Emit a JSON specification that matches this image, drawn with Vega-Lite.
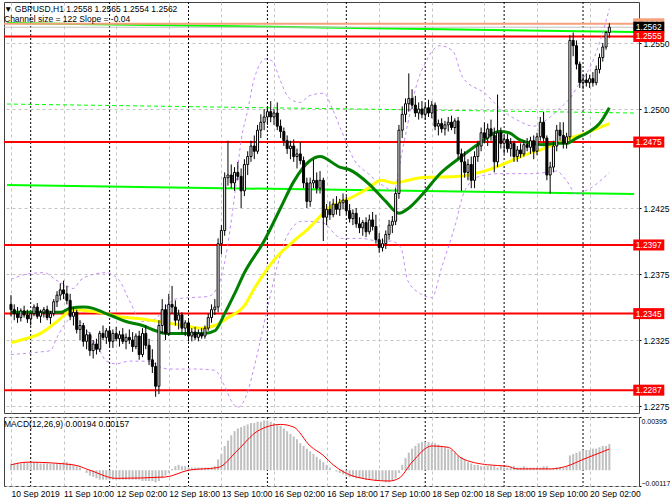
{
  "$schema": "https://vega.github.io/schema/vega-lite/v6.json",
  "background": "#ffffff",
  "padding": {"left": 2, "top": 1, "right": 0, "bottom": 0},
  "config": {
    "view": {"stroke": "#404040", "strokeWidth": 1},
    "axis": {"labelFont": "Liberation Sans", "labelFontSize": 8.5, "labelColor": "#000000", "domain": false, "gridColor": "#c4c4c4", "gridDash": [3, 3], "gridWidth": 1, "tickColor": "#000000", "tickSize": 2},
    "title": {"font": "Liberation Sans", "fontSize": 8.5, "fontWeight": "normal", "color": "#000000", "subtitleFont": "Liberation Sans", "subtitleFontSize": 8.5, "subtitleColor": "#000000", "anchor": "start", "frame": "group", "subtitlePadding": 2}
  },
  "datasets": {
    "seps": [{"bar": 6}, {"bar": 30}, {"bar": 54}, {"bar": 78}, {"bar": 102}, {"bar": 126}, {"bar": 150}, {"bar": 174}],
    "tags": [
      {"kind": "ask", "price": 1.25646},
      {"kind": "bid", "price": 1.2562},
      {"kind": "level", "price": 1.2555},
      {"kind": "level", "price": 1.2475},
      {"kind": "level", "price": 1.2397},
      {"kind": "level", "price": 1.2345},
      {"kind": "level", "price": 1.2287}
    ],
    "channel": [
      {"line": "top", "bar": -1.2, "price": 1.25652}, {"line": "top", "bar": 189.5, "price": 1.25583},
      {"line": "mid", "bar": -1.2, "price": 1.25038}, {"line": "mid", "bar": 189.5, "price": 1.2497},
      {"line": "bottom", "bar": -1.2, "price": 1.24424}, {"line": "bottom", "bar": 189.5, "price": 1.24356}
    ],
    "green": [
      {"bar": 0, "value": 1.2346}, {"bar": 9, "value": 1.2346}, {"bar": 15, "value": 1.2346}, {"bar": 18, "value": 1.2349}, {"bar": 22, "value": 1.235}, {"bar": 25, "value": 1.2349}, {"bar": 28, "value": 1.2346}, {"bar": 31, "value": 1.2343}, {"bar": 35, "value": 1.2339}, {"bar": 40, "value": 1.2336}, {"bar": 44, "value": 1.2332}, {"bar": 47, "value": 1.233}, {"bar": 59, "value": 1.233}, {"bar": 62, "value": 1.2332}, {"bar": 65, "value": 1.2345}, {"bar": 68, "value": 1.236}, {"bar": 71, "value": 1.2376}, {"bar": 77, "value": 1.24}, {"bar": 82, "value": 1.2425}, {"bar": 86, "value": 1.2445}, {"bar": 91, "value": 1.2461}, {"bar": 94, "value": 1.2464}, {"bar": 100, "value": 1.2456}, {"bar": 103, "value": 1.2454}, {"bar": 109, "value": 1.2443}, {"bar": 114, "value": 1.243}, {"bar": 118, "value": 1.2421}, {"bar": 121, "value": 1.2425}, {"bar": 125, "value": 1.2435}, {"bar": 130.5, "value": 1.2451}, {"bar": 136.5, "value": 1.2463}, {"bar": 142.5, "value": 1.2474}, {"bar": 148.5, "value": 1.2483}, {"bar": 151.5, "value": 1.2482}, {"bar": 154.5, "value": 1.2477}, {"bar": 158, "value": 1.2474}, {"bar": 162, "value": 1.2473}, {"bar": 166, "value": 1.2474}, {"bar": 169, "value": 1.2474}, {"bar": 172, "value": 1.2478}, {"bar": 176, "value": 1.2483}, {"bar": 179, "value": 1.2489}, {"bar": 182, "value": 1.2501}
    ],
    "yellow": [
      {"bar": 0, "value": 1.2323}, {"bar": 3, "value": 1.2325}, {"bar": 9, "value": 1.233}, {"bar": 14, "value": 1.2339}, {"bar": 19, "value": 1.2348}, {"bar": 24, "value": 1.2347}, {"bar": 29, "value": 1.2345}, {"bar": 32, "value": 1.2343}, {"bar": 40, "value": 1.2341}, {"bar": 45, "value": 1.2339}, {"bar": 50, "value": 1.2337}, {"bar": 58, "value": 1.2334}, {"bar": 62, "value": 1.2336}, {"bar": 66, "value": 1.2342}, {"bar": 71, "value": 1.2351}, {"bar": 74, "value": 1.2364}, {"bar": 80.5, "value": 1.2387}, {"bar": 86, "value": 1.24}, {"bar": 90.7, "value": 1.241}, {"bar": 96.7, "value": 1.2425}, {"bar": 103.6, "value": 1.2433}, {"bar": 108.7, "value": 1.244}, {"bar": 112.6, "value": 1.2446}, {"bar": 116.5, "value": 1.2444}, {"bar": 120.7, "value": 1.2446}, {"bar": 124.6, "value": 1.2448}, {"bar": 136.5, "value": 1.2449}, {"bar": 142.5, "value": 1.2452}, {"bar": 148.5, "value": 1.2457}, {"bar": 156, "value": 1.2465}, {"bar": 162, "value": 1.247}, {"bar": 166, "value": 1.2474}, {"bar": 170, "value": 1.2478}, {"bar": 174, "value": 1.2481}, {"bar": 178, "value": 1.2485}, {"bar": 182, "value": 1.2489}
    ],
    "bands": [
      {"band": "upper", "bar": 0, "price": 1.2371}, {"band": "upper", "bar": 5, "price": 1.2375}, {"band": "upper", "bar": 10, "price": 1.2376}, {"band": "upper", "bar": 14, "price": 1.237}, {"band": "upper", "bar": 17, "price": 1.2366}, {"band": "upper", "bar": 19, "price": 1.2364}, {"band": "upper", "bar": 21, "price": 1.237}, {"band": "upper", "bar": 24, "price": 1.2374}, {"band": "upper", "bar": 29, "price": 1.2376}, {"band": "upper", "bar": 33, "price": 1.237}, {"band": "upper", "bar": 36, "price": 1.2355}, {"band": "upper", "bar": 40, "price": 1.2339}, {"band": "upper", "bar": 44, "price": 1.2341}, {"band": "upper", "bar": 46, "price": 1.2347}, {"band": "upper", "bar": 50, "price": 1.2356}, {"band": "upper", "bar": 54, "price": 1.2357}, {"band": "upper", "bar": 60, "price": 1.2358}, {"band": "upper", "bar": 63, "price": 1.2366}, {"band": "upper", "bar": 65, "price": 1.2384}, {"band": "upper", "bar": 68, "price": 1.2434}, {"band": "upper", "bar": 70, "price": 1.2476}, {"band": "upper", "bar": 72, "price": 1.2499}, {"band": "upper", "bar": 74, "price": 1.2523}, {"band": "upper", "bar": 77.5, "price": 1.2538}, {"band": "upper", "bar": 79.6, "price": 1.2536}, {"band": "upper", "bar": 81.7, "price": 1.2523}, {"band": "upper", "bar": 84.7, "price": 1.2508}, {"band": "upper", "bar": 88, "price": 1.2505}, {"band": "upper", "bar": 90.7, "price": 1.251}, {"band": "upper", "bar": 95.2, "price": 1.2512}, {"band": "upper", "bar": 97.6, "price": 1.2501}, {"band": "upper", "bar": 100.6, "price": 1.2483}, {"band": "upper", "bar": 104.5, "price": 1.2461}, {"band": "upper", "bar": 108.7, "price": 1.2451}, {"band": "upper", "bar": 112.6, "price": 1.2443}, {"band": "upper", "bar": 116.5, "price": 1.2438}, {"band": "upper", "bar": 118.6, "price": 1.2463}, {"band": "upper", "bar": 120.7, "price": 1.2489}, {"band": "upper", "bar": 123.7, "price": 1.2521}, {"band": "upper", "bar": 126, "price": 1.2535}, {"band": "upper", "bar": 130.5, "price": 1.2548}, {"band": "upper", "bar": 134.4, "price": 1.2544}, {"band": "upper", "bar": 137.4, "price": 1.2524}, {"band": "upper", "bar": 144.6, "price": 1.2511}, {"band": "upper", "bar": 148.5, "price": 1.2501}, {"band": "upper", "bar": 154.5, "price": 1.2491}, {"band": "upper", "bar": 159, "price": 1.2487}, {"band": "upper", "bar": 163.5, "price": 1.2493}, {"band": "upper", "bar": 168, "price": 1.2503}, {"band": "upper", "bar": 170, "price": 1.2508}, {"band": "upper", "bar": 173, "price": 1.252}, {"band": "upper", "bar": 176, "price": 1.2531}, {"band": "upper", "bar": 179, "price": 1.255}, {"band": "upper", "bar": 182, "price": 1.2576},
      {"band": "lower", "bar": 0, "price": 1.2314}, {"band": "lower", "bar": 9, "price": 1.2316}, {"band": "lower", "bar": 12, "price": 1.2317}, {"band": "lower", "bar": 14, "price": 1.2327}, {"band": "lower", "bar": 17, "price": 1.2339}, {"band": "lower", "bar": 19, "price": 1.2343}, {"band": "lower", "bar": 21, "price": 1.2339}, {"band": "lower", "bar": 24, "price": 1.2329}, {"band": "lower", "bar": 27, "price": 1.2317}, {"band": "lower", "bar": 29, "price": 1.2309}, {"band": "lower", "bar": 32, "price": 1.2307}, {"band": "lower", "bar": 36, "price": 1.2309}, {"band": "lower", "bar": 42, "price": 1.2309}, {"band": "lower", "bar": 45, "price": 1.2305}, {"band": "lower", "bar": 48, "price": 1.2303}, {"band": "lower", "bar": 56, "price": 1.2303}, {"band": "lower", "bar": 62, "price": 1.2302}, {"band": "lower", "bar": 65, "price": 1.229}, {"band": "lower", "bar": 67, "price": 1.2279}, {"band": "lower", "bar": 69, "price": 1.2274}, {"band": "lower", "bar": 71.6, "price": 1.2283}, {"band": "lower", "bar": 74.6, "price": 1.2311}, {"band": "lower", "bar": 78, "price": 1.2349}, {"band": "lower", "bar": 81, "price": 1.2381}, {"band": "lower", "bar": 84, "price": 1.2404}, {"band": "lower", "bar": 88.6, "price": 1.2415}, {"band": "lower", "bar": 94.6, "price": 1.2414}, {"band": "lower", "bar": 100.6, "price": 1.2402}, {"band": "lower", "bar": 106.6, "price": 1.2402}, {"band": "lower", "bar": 111.7, "price": 1.24}, {"band": "lower", "bar": 115.6, "price": 1.24}, {"band": "lower", "bar": 118.6, "price": 1.2395}, {"band": "lower", "bar": 120.7, "price": 1.237}, {"band": "lower", "bar": 124.6, "price": 1.236}, {"band": "lower", "bar": 128, "price": 1.2357}, {"band": "lower", "bar": 131, "price": 1.238}, {"band": "lower", "bar": 135, "price": 1.2411}, {"band": "lower", "bar": 138, "price": 1.2438}, {"band": "lower", "bar": 142.5, "price": 1.2449}, {"band": "lower", "bar": 148.5, "price": 1.2451}, {"band": "lower", "bar": 154.5, "price": 1.2451}, {"band": "lower", "bar": 159, "price": 1.2451}, {"band": "lower", "bar": 165.9, "price": 1.2453}, {"band": "lower", "bar": 168.9, "price": 1.2446}, {"band": "lower", "bar": 171.9, "price": 1.2436}, {"band": "lower", "bar": 176.2, "price": 1.244}, {"band": "lower", "bar": 182, "price": 1.2452}
    ],
    "signal": [
      {"bar": 0, "value": 0.0004}, {"bar": 5, "value": 0.0006}, {"bar": 19, "value": 0.0004}, {"bar": 24, "value": 0.0}, {"bar": 32, "value": -0.0006}, {"bar": 47, "value": -0.0005}, {"bar": 54, "value": 0.0}, {"bar": 63, "value": 0.0002}, {"bar": 69, "value": 0.0015}, {"bar": 75, "value": 0.0029}, {"bar": 82, "value": 0.0034}, {"bar": 86, "value": 0.0032}, {"bar": 91, "value": 0.0018}, {"bar": 95, "value": 0.0011}, {"bar": 98, "value": 0.0004}, {"bar": 101, "value": -0.0001}, {"bar": 105, "value": -0.0005}, {"bar": 115, "value": -0.0008}, {"bar": 118, "value": -0.0006}, {"bar": 122, "value": 0.0006}, {"bar": 128, "value": 0.0018}, {"bar": 133, "value": 0.0017}, {"bar": 137, "value": 0.0009}, {"bar": 145, "value": 0.0004}, {"bar": 151, "value": 0.0003}, {"bar": 154, "value": 0.0001}, {"bar": 164, "value": 0.0001}, {"bar": 169, "value": 0.0003}, {"bar": 174, "value": 0.0008}, {"bar": 182, "value": 0.00157}
    ],
    "candles": [
      {"bar":0,"open":1.2352,"high":1.2359,"low":1.2343,"close":1.2348,"macd":0.0005},
      {"bar":1,"open":1.2348,"high":1.2352,"low":1.2340,"close":1.2345,"macd":0.0005},
      {"bar":2,"open":1.2345,"high":1.2350,"low":1.2338,"close":1.2342,"macd":0.0005},
      {"bar":3,"open":1.2342,"high":1.2349,"low":1.2339,"close":1.2347,"macd":0.0005},
      {"bar":4,"open":1.2347,"high":1.2351,"low":1.2342,"close":1.2344,"macd":0.0006},
      {"bar":5,"open":1.2344,"high":1.2348,"low":1.2338,"close":1.2341,"macd":0.0006},
      {"bar":6,"open":1.2341,"high":1.2346,"low":1.2336,"close":1.2345,"macd":0.0006},
      {"bar":7,"open":1.2345,"high":1.2352,"low":1.2343,"close":1.2350,"macd":0.0006},
      {"bar":8,"open":1.2350,"high":1.2353,"low":1.2341,"close":1.2343,"macd":0.0006},
      {"bar":9,"open":1.2343,"high":1.2348,"low":1.2338,"close":1.2346,"macd":0.0005},
      {"bar":10,"open":1.2346,"high":1.2350,"low":1.2342,"close":1.2348,"macd":0.0005},
      {"bar":11,"open":1.2348,"high":1.2351,"low":1.2340,"close":1.2342,"macd":0.0005},
      {"bar":12,"open":1.2342,"high":1.2347,"low":1.2337,"close":1.2345,"macd":0.0005},
      {"bar":13,"open":1.2345,"high":1.2356,"low":1.2343,"close":1.2354,"macd":0.0005},
      {"bar":14,"open":1.2354,"high":1.2362,"low":1.2350,"close":1.2359,"macd":0.0005},
      {"bar":15,"open":1.2359,"high":1.2368,"low":1.2355,"close":1.2363,"macd":0.0005},
      {"bar":16,"open":1.2363,"high":1.2370,"low":1.2356,"close":1.2360,"macd":0.0006},
      {"bar":17,"open":1.2360,"high":1.2366,"low":1.2352,"close":1.2355,"macd":0.0006},
      {"bar":18,"open":1.2355,"high":1.2360,"low":1.2340,"close":1.2343,"macd":0.0005},
      {"bar":19,"open":1.2343,"high":1.2350,"low":1.2336,"close":1.2346,"macd":0.0004},
      {"bar":20,"open":1.2346,"high":1.2348,"low":1.2330,"close":1.2333,"macd":0.0003},
      {"bar":21,"open":1.2333,"high":1.2340,"low":1.2325,"close":1.2336,"macd":0.0002},
      {"bar":22,"open":1.2336,"high":1.2338,"low":1.2320,"close":1.2324,"macd":0.0},
      {"bar":23,"open":1.2324,"high":1.2333,"low":1.2318,"close":1.2329,"macd":-0.0002},
      {"bar":24,"open":1.2329,"high":1.2331,"low":1.2313,"close":1.2317,"macd":-0.0004},
      {"bar":25,"open":1.2317,"high":1.2325,"low":1.2311,"close":1.2322,"macd":-0.0005},
      {"bar":26,"open":1.2322,"high":1.2326,"low":1.2314,"close":1.2318,"macd":-0.0006},
      {"bar":27,"open":1.2318,"high":1.2332,"low":1.2316,"close":1.2330,"macd":-0.0007},
      {"bar":28,"open":1.2330,"high":1.2336,"low":1.2325,"close":1.2327,"macd":-0.0007},
      {"bar":29,"open":1.2327,"high":1.2334,"low":1.2322,"close":1.2332,"macd":-0.0007},
      {"bar":30,"open":1.2332,"high":1.2335,"low":1.2320,"close":1.2324,"macd":-0.0007},
      {"bar":31,"open":1.2324,"high":1.2333,"low":1.2319,"close":1.2330,"macd":-0.0007},
      {"bar":32,"open":1.2330,"high":1.2335,"low":1.2324,"close":1.2326,"macd":-0.0007},
      {"bar":33,"open":1.2326,"high":1.2332,"low":1.2320,"close":1.2329,"macd":-0.0007},
      {"bar":34,"open":1.2329,"high":1.2334,"low":1.2322,"close":1.2324,"macd":-0.0007},
      {"bar":35,"open":1.2324,"high":1.2330,"low":1.2318,"close":1.2327,"macd":-0.0007},
      {"bar":36,"open":1.2327,"high":1.2333,"low":1.2322,"close":1.2325,"macd":-0.0007},
      {"bar":37,"open":1.2325,"high":1.2331,"low":1.2316,"close":1.2320,"macd":-0.0007},
      {"bar":38,"open":1.2320,"high":1.2330,"low":1.2318,"close":1.2328,"macd":-0.0007},
      {"bar":39,"open":1.2328,"high":1.2332,"low":1.2310,"close":1.2314,"macd":-0.0007},
      {"bar":40,"open":1.2314,"high":1.2334,"low":1.2312,"close":1.2330,"macd":-0.0008},
      {"bar":41,"open":1.2330,"high":1.2336,"low":1.2318,"close":1.2321,"macd":-0.0008},
      {"bar":42,"open":1.2321,"high":1.2326,"low":1.2306,"close":1.2310,"macd":-0.0008},
      {"bar":43,"open":1.2310,"high":1.2318,"low":1.2300,"close":1.2305,"macd":-0.0008},
      {"bar":44,"open":1.2305,"high":1.2308,"low":1.2282,"close":1.2290,"macd":-0.0009},
      {"bar":45,"open":1.2290,"high":1.2340,"low":1.2284,"close":1.2336,"macd":-0.0008},
      {"bar":46,"open":1.2336,"high":1.2356,"low":1.2330,"close":1.2348,"macd":-0.0006},
      {"bar":47,"open":1.2348,"high":1.2352,"low":1.2325,"close":1.2330,"macd":-0.0004},
      {"bar":48,"open":1.2330,"high":1.2360,"low":1.2328,"close":1.2352,"macd":-0.0002},
      {"bar":49,"open":1.2352,"high":1.2366,"low":1.2345,"close":1.2350,"macd":0.0001},
      {"bar":50,"open":1.2350,"high":1.2355,"low":1.2336,"close":1.2340,"macd":0.0003},
      {"bar":51,"open":1.2340,"high":1.2348,"low":1.2333,"close":1.2344,"macd":0.0004},
      {"bar":52,"open":1.2344,"high":1.2346,"low":1.2330,"close":1.2334,"macd":0.0003},
      {"bar":53,"open":1.2334,"high":1.2340,"low":1.2328,"close":1.2338,"macd":0.0003},
      {"bar":54,"open":1.2338,"high":1.2340,"low":1.2324,"close":1.2328,"macd":0.0002},
      {"bar":55,"open":1.2328,"high":1.2334,"low":1.2324,"close":1.2331,"macd":0.0002},
      {"bar":56,"open":1.2331,"high":1.2335,"low":1.2325,"close":1.2327,"macd":0.0002},
      {"bar":57,"open":1.2327,"high":1.2333,"low":1.2324,"close":1.2330,"macd":0.0002},
      {"bar":58,"open":1.2330,"high":1.2334,"low":1.2326,"close":1.2328,"macd":0.0002},
      {"bar":59,"open":1.2328,"high":1.2336,"low":1.2326,"close":1.2334,"macd":0.0002},
      {"bar":60,"open":1.2334,"high":1.2345,"low":1.2332,"close":1.2342,"macd":0.0002},
      {"bar":61,"open":1.2342,"high":1.2352,"low":1.2338,"close":1.2348,"macd":0.0002},
      {"bar":62,"open":1.2348,"high":1.2356,"low":1.2344,"close":1.2350,"macd":0.0003},
      {"bar":63,"open":1.2350,"high":1.2402,"low":1.2346,"close":1.2398,"macd":0.0008},
      {"bar":64,"open":1.2398,"high":1.2412,"low":1.2390,"close":1.2408,"macd":0.0012},
      {"bar":65,"open":1.2408,"high":1.2452,"low":1.2404,"close":1.2448,"macd":0.0018},
      {"bar":66,"open":1.2448,"high":1.2476,"low":1.2442,"close":1.2450,"macd":0.0022},
      {"bar":67,"open":1.2450,"high":1.2458,"low":1.2440,"close":1.2444,"macd":0.0026},
      {"bar":68,"open":1.2444,"high":1.2456,"low":1.2438,"close":1.2452,"macd":0.0029},
      {"bar":69,"open":1.2452,"high":1.2460,"low":1.2446,"close":1.2449,"macd":0.0031},
      {"bar":70,"open":1.2449,"high":1.2455,"low":1.2425,"close":1.2438,"macd":0.0032},
      {"bar":71,"open":1.2438,"high":1.2462,"low":1.2434,"close":1.2458,"macd":0.0033},
      {"bar":72,"open":1.2458,"high":1.2468,"low":1.2450,"close":1.2464,"macd":0.0034},
      {"bar":73,"open":1.2464,"high":1.2476,"low":1.2460,"close":1.2472,"macd":0.0035},
      {"bar":74,"open":1.2472,"high":1.2480,"low":1.2462,"close":1.2468,"macd":0.0035},
      {"bar":75,"open":1.2468,"high":1.2488,"low":1.2466,"close":1.2484,"macd":0.0036},
      {"bar":76,"open":1.2484,"high":1.2496,"low":1.2478,"close":1.2490,"macd":0.0036},
      {"bar":77,"open":1.2490,"high":1.2500,"low":1.2484,"close":1.2494,"macd":0.0037},
      {"bar":78,"open":1.2494,"high":1.2502,"low":1.2488,"close":1.2498,"macd":0.0037},
      {"bar":79,"open":1.2498,"high":1.2506,"low":1.2490,"close":1.2494,"macd":0.0036},
      {"bar":80,"open":1.2494,"high":1.2500,"low":1.2488,"close":1.2497,"macd":0.0035},
      {"bar":81,"open":1.2497,"high":1.2505,"low":1.2484,"close":1.2487,"macd":0.0034},
      {"bar":82,"open":1.2487,"high":1.2492,"low":1.2478,"close":1.2483,"macd":0.0033},
      {"bar":83,"open":1.2483,"high":1.2486,"low":1.2472,"close":1.2476,"macd":0.0031},
      {"bar":84,"open":1.2476,"high":1.2480,"low":1.2466,"close":1.2470,"macd":0.0029},
      {"bar":85,"open":1.2470,"high":1.2476,"low":1.2462,"close":1.2472,"macd":0.0027},
      {"bar":86,"open":1.2472,"high":1.2477,"low":1.2460,"close":1.2464,"macd":0.0025},
      {"bar":87,"open":1.2464,"high":1.2470,"low":1.2455,"close":1.2466,"macd":0.0023},
      {"bar":88,"open":1.2466,"high":1.2475,"low":1.2458,"close":1.2461,"macd":0.0020},
      {"bar":89,"open":1.2461,"high":1.2464,"low":1.2440,"close":1.2444,"macd":0.0018},
      {"bar":90,"open":1.2444,"high":1.2448,"low":1.2425,"close":1.2430,"macd":0.0016},
      {"bar":91,"open":1.2430,"high":1.2448,"low":1.2426,"close":1.2444,"macd":0.0014},
      {"bar":92,"open":1.2444,"high":1.2462,"low":1.2440,"close":1.2446,"macd":0.0012},
      {"bar":93,"open":1.2446,"high":1.2452,"low":1.2436,"close":1.2440,"macd":0.0010},
      {"bar":94,"open":1.2440,"high":1.2453,"low":1.2436,"close":1.2446,"macd":0.0008},
      {"bar":95,"open":1.2446,"high":1.2448,"low":1.2400,"close":1.2418,"macd":0.0006},
      {"bar":96,"open":1.2418,"high":1.2428,"low":1.2412,"close":1.2424,"macd":0.0004},
      {"bar":97,"open":1.2424,"high":1.2430,"low":1.2416,"close":1.2420,"macd":0.0002},
      {"bar":98,"open":1.2420,"high":1.2432,"low":1.2418,"close":1.2428,"macd":0.0},
      {"bar":99,"open":1.2428,"high":1.2434,"low":1.2420,"close":1.2424,"macd":-0.0001},
      {"bar":100,"open":1.2424,"high":1.2432,"low":1.2419,"close":1.2429,"macd":-0.0002},
      {"bar":101,"open":1.2429,"high":1.2436,"low":1.2424,"close":1.2431,"macd":-0.0003},
      {"bar":102,"open":1.2431,"high":1.2434,"low":1.2420,"close":1.2423,"macd":-0.0004},
      {"bar":103,"open":1.2423,"high":1.2428,"low":1.2414,"close":1.2417,"macd":-0.0005},
      {"bar":104,"open":1.2417,"high":1.2424,"low":1.2412,"close":1.2421,"macd":-0.0005},
      {"bar":105,"open":1.2421,"high":1.2425,"low":1.2410,"close":1.2413,"macd":-0.0006},
      {"bar":106,"open":1.2413,"high":1.2418,"low":1.2406,"close":1.2410,"macd":-0.0006},
      {"bar":107,"open":1.2410,"high":1.2416,"low":1.2404,"close":1.2414,"macd":-0.0006},
      {"bar":108,"open":1.2414,"high":1.2418,"low":1.2403,"close":1.2407,"macd":-0.0007},
      {"bar":109,"open":1.2407,"high":1.2420,"low":1.2405,"close":1.2416,"macd":-0.0007},
      {"bar":110,"open":1.2416,"high":1.2422,"low":1.2408,"close":1.2411,"macd":-0.0007},
      {"bar":111,"open":1.2411,"high":1.2420,"low":1.2398,"close":1.2401,"macd":-0.0008},
      {"bar":112,"open":1.2401,"high":1.2406,"low":1.2391,"close":1.2395,"macd":-0.0008},
      {"bar":113,"open":1.2395,"high":1.2402,"low":1.2392,"close":1.2398,"macd":-0.0008},
      {"bar":114,"open":1.2398,"high":1.2408,"low":1.2394,"close":1.2405,"macd":-0.0009},
      {"bar":115,"open":1.2405,"high":1.2416,"low":1.2401,"close":1.2412,"macd":-0.0009},
      {"bar":116,"open":1.2412,"high":1.2419,"low":1.2406,"close":1.2415,"macd":-0.0008},
      {"bar":117,"open":1.2415,"high":1.2440,"low":1.2412,"close":1.2436,"macd":-0.0006},
      {"bar":118,"open":1.2436,"high":1.2488,"low":1.2432,"close":1.2484,"macd":-0.0002},
      {"bar":119,"open":1.2484,"high":1.2502,"low":1.2478,"close":1.2496,"macd":0.0004},
      {"bar":120,"open":1.2496,"high":1.2508,"low":1.2490,"close":1.2504,"macd":0.0009},
      {"bar":121,"open":1.2504,"high":1.2527,"low":1.2498,"close":1.2508,"macd":0.0013},
      {"bar":122,"open":1.2508,"high":1.2515,"low":1.2500,"close":1.2503,"macd":0.0016},
      {"bar":123,"open":1.2503,"high":1.2510,"low":1.2494,"close":1.2497,"macd":0.0018},
      {"bar":124,"open":1.2497,"high":1.2505,"low":1.2492,"close":1.2500,"macd":0.0020},
      {"bar":125,"open":1.2500,"high":1.2506,"low":1.2493,"close":1.2496,"macd":0.0021},
      {"bar":126,"open":1.2496,"high":1.2504,"low":1.2492,"close":1.2501,"macd":0.0021},
      {"bar":127,"open":1.2501,"high":1.2507,"low":1.2494,"close":1.2497,"macd":0.0021},
      {"bar":128,"open":1.2497,"high":1.2506,"low":1.2493,"close":1.2503,"macd":0.0020},
      {"bar":129,"open":1.2503,"high":1.2505,"low":1.2484,"close":1.2487,"macd":0.0020},
      {"bar":130,"open":1.2487,"high":1.2492,"low":1.2480,"close":1.2489,"macd":0.0019},
      {"bar":131,"open":1.2489,"high":1.2493,"low":1.2482,"close":1.2485,"macd":0.0018},
      {"bar":132,"open":1.2485,"high":1.2491,"low":1.2480,"close":1.2488,"macd":0.0017},
      {"bar":133,"open":1.2488,"high":1.2494,"low":1.2483,"close":1.2490,"macd":0.0016},
      {"bar":134,"open":1.2490,"high":1.2495,"low":1.2484,"close":1.2486,"macd":0.0015},
      {"bar":135,"open":1.2486,"high":1.2493,"low":1.2481,"close":1.2491,"macd":0.0013},
      {"bar":136,"open":1.2491,"high":1.2494,"low":1.2462,"close":1.2466,"macd":0.0011},
      {"bar":137,"open":1.2466,"high":1.2470,"low":1.2438,"close":1.2460,"macd":0.0010},
      {"bar":138,"open":1.2460,"high":1.2468,"low":1.2448,"close":1.2452,"macd":0.0008},
      {"bar":139,"open":1.2452,"high":1.2462,"low":1.2446,"close":1.2458,"macd":0.0006},
      {"bar":140,"open":1.2458,"high":1.2464,"low":1.2440,"close":1.2446,"macd":0.0005},
      {"bar":141,"open":1.2446,"high":1.2468,"low":1.2440,"close":1.2464,"macd":0.0004},
      {"bar":142,"open":1.2464,"high":1.2476,"low":1.2460,"close":1.2472,"macd":0.0004},
      {"bar":143,"open":1.2472,"high":1.2486,"low":1.2468,"close":1.2482,"macd":0.0003},
      {"bar":144,"open":1.2482,"high":1.2490,"low":1.2474,"close":1.2478,"macd":0.0003},
      {"bar":145,"open":1.2478,"high":1.2489,"low":1.2472,"close":1.2485,"macd":0.0003},
      {"bar":146,"open":1.2485,"high":1.2492,"low":1.2476,"close":1.2480,"macd":0.0003},
      {"bar":147,"open":1.2480,"high":1.2486,"low":1.2452,"close":1.2460,"macd":0.0003},
      {"bar":148,"open":1.2460,"high":1.2511,"low":1.2456,"close":1.2482,"macd":0.0002},
      {"bar":149,"open":1.2482,"high":1.2486,"low":1.2470,"close":1.2474,"macd":0.0003},
      {"bar":150,"open":1.2474,"high":1.2480,"low":1.2466,"close":1.2477,"macd":0.0002},
      {"bar":151,"open":1.2477,"high":1.2481,"low":1.2467,"close":1.2470,"macd":0.0002},
      {"bar":152,"open":1.2470,"high":1.2478,"low":1.2464,"close":1.2474,"macd":0.0002},
      {"bar":153,"open":1.2474,"high":1.2476,"low":1.2460,"close":1.2464,"macd":0.0003},
      {"bar":154,"open":1.2464,"high":1.2472,"low":1.2460,"close":1.2469,"macd":0.0002},
      {"bar":155,"open":1.2469,"high":1.2474,"low":1.2463,"close":1.2466,"macd":0.0002},
      {"bar":156,"open":1.2466,"high":1.2476,"low":1.2464,"close":1.2473,"macd":0.0003},
      {"bar":157,"open":1.2473,"high":1.2478,"low":1.2468,"close":1.2471,"macd":0.0002},
      {"bar":158,"open":1.2471,"high":1.2479,"low":1.2466,"close":1.2476,"macd":0.0002},
      {"bar":159,"open":1.2476,"high":1.2480,"low":1.2462,"close":1.2468,"macd":0.0002},
      {"bar":160,"open":1.2468,"high":1.2482,"low":1.2465,"close":1.2479,"macd":0.0002},
      {"bar":161,"open":1.2479,"high":1.2494,"low":1.2476,"close":1.2490,"macd":0.0002},
      {"bar":162,"open":1.2490,"high":1.2498,"low":1.2474,"close":1.2478,"macd":0.0003},
      {"bar":163,"open":1.2478,"high":1.2480,"low":1.2446,"close":1.2450,"macd":0.0003},
      {"bar":164,"open":1.2450,"high":1.2460,"low":1.2436,"close":1.2456,"macd":0.0001},
      {"bar":165,"open":1.2456,"high":1.2476,"low":1.2452,"close":1.2472,"macd":0.0001},
      {"bar":166,"open":1.2472,"high":1.2488,"low":1.2468,"close":1.2484,"macd":0.0002},
      {"bar":167,"open":1.2484,"high":1.2490,"low":1.2476,"close":1.2480,"macd":0.0002},
      {"bar":168,"open":1.2480,"high":1.2490,"low":1.2470,"close":1.2474,"macd":0.0002},
      {"bar":169,"open":1.2474,"high":1.2482,"low":1.2470,"close":1.2479,"macd":0.0003},
      {"bar":170,"open":1.2479,"high":1.2556,"low":1.2476,"close":1.2552,"macd":0.0011},
      {"bar":171,"open":1.2552,"high":1.2558,"low":1.2540,"close":1.2548,"macd":0.0012},
      {"bar":172,"open":1.2548,"high":1.2552,"low":1.2530,"close":1.2534,"macd":0.0013},
      {"bar":173,"open":1.2534,"high":1.2536,"low":1.2516,"close":1.2520,"macd":0.0014},
      {"bar":174,"open":1.2520,"high":1.2526,"low":1.2515,"close":1.2522,"macd":0.0015},
      {"bar":175,"open":1.2522,"high":1.2527,"low":1.2517,"close":1.2520,"macd":0.0015},
      {"bar":176,"open":1.2520,"high":1.2526,"low":1.2516,"close":1.2523,"macd":0.0015},
      {"bar":177,"open":1.2523,"high":1.2528,"low":1.2517,"close":1.2520,"macd":0.0016},
      {"bar":178,"open":1.2520,"high":1.2533,"low":1.2518,"close":1.2530,"macd":0.0016},
      {"bar":179,"open":1.2530,"high":1.2542,"low":1.2527,"close":1.2539,"macd":0.0017},
      {"bar":180,"open":1.2539,"high":1.2550,"low":1.2536,"close":1.2547,"macd":0.0018},
      {"bar":181,"open":1.2547,"high":1.2559,"low":1.2545,"close":1.2558,"macd":0.0018},
      {"bar":182,"open":1.2558,"high":1.2565,"low":1.2554,"close":1.2562,"macd":0.00194}
    ]
  },
  "spacing": 2,
  "vconcat": [
    {
      "width": 635,
      "height": 411,
      "title": {"text": "▼ GBPUSD,H1  1.2558 1.2565 1.2554 1.2562", "subtitle": "Channel size = 122 Slope = -0.04", "offset": -22},
      "layer": [
        {
          "data": {"name": "seps"},
          "mark": {"type": "rule", "color": "#000000", "strokeDash": [2, 2], "strokeWidth": 1},
          "encoding": {
            "x": {"field": "bar", "type": "quantitative", "title": null, "scale": {"domain": [-0.6, 189.5], "nice": false, "zero": false},
              "axis": {"values": [0, 8, 16, 24, 32, 40, 48, 56, 64, 72, 80, 88, 96, 104, 112, 120, 128, 136, 144, 152, 160, 168, 176, 184], "labels": false, "ticks": false, "grid": true}}
          }
        },
        {
          "data": {"name": "channel"},
          "transform": [{"filter": "datum.line != 'mid'"}],
          "mark": {"type": "line", "color": "#00ff00", "strokeWidth": 2, "clip": true},
          "encoding": {
            "x": {"field": "bar", "type": "quantitative", "title": null},
            "y": {"field": "price", "type": "quantitative", "title": null, "scale": {"domain": [1.22697, 1.25811], "nice": false, "zero": false},
              "axis": {"orient": "right", "values": [1.2275, 1.23, 1.2325, 1.235, 1.2375, 1.24, 1.2425, 1.245, 1.25, 1.2525, 1.255, 1.2575], "format": ".4f", "grid": true, "labelPadding": 2, "labelFlush": false, "labelOverlap": false}},
            "detail": {"field": "line", "type": "nominal"}
          }
        },
        {
          "data": {"name": "channel"},
          "transform": [{"filter": "datum.line == 'mid'"}],
          "mark": {"type": "line", "color": "#00ff00", "strokeWidth": 1, "strokeDash": [4, 3], "clip": true},
          "encoding": {
            "x": {"field": "bar", "type": "quantitative", "title": null},
            "y": {"field": "price", "type": "quantitative", "title": null}
          }
        },
        {
          "data": {"name": "tags"},
          "transform": [{"filter": "datum.kind == 'ask'"}],
          "mark": {"type": "rule", "color": "#f7a07c", "strokeWidth": 2},
          "encoding": {"y": {"field": "price", "type": "quantitative", "title": null}}
        },
        {
          "data": {"name": "tags"},
          "transform": [{"filter": "datum.kind == 'bid'"}],
          "mark": {"type": "rule", "color": "#c0c0c0", "strokeWidth": 1},
          "encoding": {"y": {"field": "price", "type": "quantitative", "title": null}}
        },
        {
          "data": {"name": "tags"},
          "transform": [{"filter": "datum.kind == 'level'"}],
          "mark": {"type": "rule", "color": "#ff0000", "strokeWidth": 2},
          "encoding": {"y": {"field": "price", "type": "quantitative", "title": null}}
        },
        {
          "data": {"name": "bands"},
          "mark": {"type": "line", "color": "#c38ef5", "strokeWidth": 1, "strokeDash": [3, 3], "interpolate": "monotone"},
          "encoding": {
            "x": {"field": "bar", "type": "quantitative", "title": null},
            "y": {"field": "price", "type": "quantitative", "title": null},
            "detail": {"field": "band", "type": "nominal"}
          }
        },
        {
          "data": {"name": "yellow"},
          "mark": {"type": "line", "color": "#ffff00", "strokeWidth": 3, "interpolate": "monotone"},
          "encoding": {
            "x": {"field": "bar", "type": "quantitative", "title": null},
            "y": {"field": "value", "type": "quantitative", "title": null}
          }
        },
        {
          "data": {"name": "green"},
          "mark": {"type": "line", "color": "#008000", "strokeWidth": 3, "interpolate": "monotone"},
          "encoding": {
            "x": {"field": "bar", "type": "quantitative", "title": null},
            "y": {"field": "value", "type": "quantitative", "title": null}
          }
        },
        {
          "data": {"name": "candles"},
          "mark": {"type": "rule", "color": "#000000", "strokeWidth": 1},
          "encoding": {
            "x": {"field": "bar", "type": "quantitative", "title": null},
            "y": {"field": "low", "type": "quantitative", "title": null},
            "y2": {"field": "high"}
          }
        },
        {
          "data": {"name": "candles"},
          "mark": {"type": "bar", "size": 2, "stroke": "#000000", "strokeWidth": 1},
          "encoding": {
            "x": {"field": "bar", "type": "quantitative", "title": null},
            "y": {"field": "open", "type": "quantitative", "title": null},
            "y2": {"field": "close"},
            "fill": {"condition": {"test": "datum.close >= datum.open", "value": "#ffffff"}, "value": "#000000"}
          }
        },
        {
          "data": {"name": "tags"},
          "transform": [{"filter": "datum.kind == 'ask'"}],
          "layer": [
            {"mark": {"type": "tick", "orient": "horizontal", "size": 31, "thickness": 11, "color": "#f7a07c", "opacity": 1},
             "encoding": {"x": {"datum": 194}, "y": {"field": "price", "type": "quantitative", "title": null}}},
            {"mark": {"type": "text", "color": "#ffffff", "font": "Liberation Sans", "fontSize": 8.5, "align": "center", "baseline": "middle"},
             "encoding": {"x": {"datum": 194}, "y": {"field": "price", "type": "quantitative", "title": null}, "text": {"field": "price", "type": "quantitative", "format": ".4f"}}}
          ]
        },
        {
          "data": {"name": "tags"},
          "transform": [{"filter": "datum.kind == 'bid'"}],
          "layer": [
            {"mark": {"type": "tick", "orient": "horizontal", "size": 31, "thickness": 11, "color": "#000000", "opacity": 1},
             "encoding": {"x": {"datum": 194}, "y": {"field": "price", "type": "quantitative", "title": null}}},
            {"mark": {"type": "text", "color": "#ffffff", "font": "Liberation Sans", "fontSize": 8.5, "align": "center", "baseline": "middle"},
             "encoding": {"x": {"datum": 194}, "y": {"field": "price", "type": "quantitative", "title": null}, "text": {"field": "price", "type": "quantitative", "format": ".4f"}}}
          ]
        },
        {
          "data": {"name": "tags"},
          "transform": [{"filter": "datum.kind == 'level'"}],
          "layer": [
            {"mark": {"type": "tick", "orient": "horizontal", "size": 31, "thickness": 11, "color": "#ff0000", "opacity": 1},
             "encoding": {"x": {"datum": 194}, "y": {"field": "price", "type": "quantitative", "title": null}}},
            {"mark": {"type": "text", "color": "#ffffff", "font": "Liberation Sans", "fontSize": 8.5, "align": "center", "baseline": "middle"},
             "encoding": {"x": {"datum": 194}, "y": {"field": "price", "type": "quantitative", "title": null}, "text": {"field": "price", "type": "quantitative", "format": ".4f"}}}
          ]
        }
      ]
    },
    {
      "width": 635,
      "height": 69,
      "title": {"text": "MACD(12,26,9) 0.00194 0.00157", "offset": -12},
      "layer": [
        {
          "data": {"name": "seps"},
          "mark": {"type": "rule", "color": "#000000", "strokeDash": [2, 2], "strokeWidth": 1},
          "encoding": {
            "x": {"field": "bar", "type": "quantitative", "title": null, "scale": {"domain": [-0.6, 189.5], "nice": false, "zero": false},
              "axis": {"values": [0, 8, 16, 24, 32, 40, 48, 56, 64, 72, 80, 88, 96, 104, 112, 120, 128, 136, 144, 152, 160, 168, 176, 184],
                "labelExpr": "datum.value % 16 == 0 ? ['10 Sep 2019','11 Sep 10:00','12 Sep 02:00','12 Sep 18:00','13 Sep 10:00','16 Sep 02:00','16 Sep 18:00','17 Sep 10:00','18 Sep 02:00','18 Sep 18:00','19 Sep 10:00','20 Sep 02:00'][datum.value / 16] : ''",
                "labelAlign": "left", "labelFlush": false, "labelOverlap": false, "labelBound": false, "ticks": false, "labelPadding": 3, "grid": true}}
          }
        },
        {
          "data": {"name": "candles"},
          "mark": {"type": "bar", "size": 2, "color": "#c0c0c0"},
          "encoding": {
            "x": {"field": "bar", "type": "quantitative", "title": null},
            "y": {"field": "macd", "type": "quantitative", "title": null, "scale": {"domain": [-0.00117, 0.00395], "nice": false, "zero": false},
              "axis": {"orient": "right", "values": [-0.00117, 0, 0.00395], "labelExpr": "datum.value == 0 ? '0.00' : format(datum.value, '.5f')", "labelFlush": true, "labelOverlap": false, "grid": true, "labelPadding": 0, "labelFontSize": 7}},
            "y2": {"datum": 0}
          }
        },
        {
          "data": {"name": "signal"},
          "mark": {"type": "line", "color": "#ff0000", "strokeWidth": 1, "interpolate": "monotone"},
          "encoding": {
            "x": {"field": "bar", "type": "quantitative", "title": null},
            "y": {"field": "value", "type": "quantitative", "title": null}
          }
        }
      ]
    }
  ]
}
